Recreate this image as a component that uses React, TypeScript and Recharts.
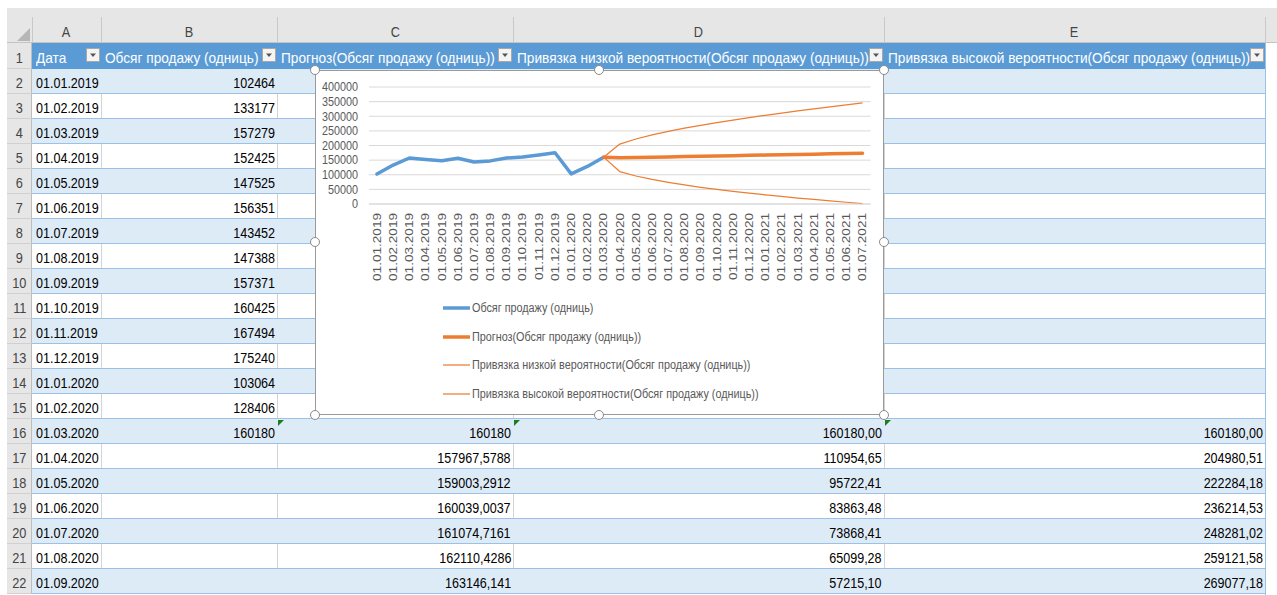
import React from 'react';
import { LineChart, Line, XAxis, YAxis, CartesianGrid, Legend } from 'recharts';

// ---------- DATA ----------
const dates = [
  '01.01.2019', '01.02.2019', '01.03.2019', '01.04.2019', '01.05.2019', '01.06.2019',
  '01.07.2019', '01.08.2019', '01.09.2019', '01.10.2019', '01.11.2019', '01.12.2019',
  '01.01.2020', '01.02.2020', '01.03.2020', '01.04.2020', '01.05.2020', '01.06.2020',
  '01.07.2020', '01.08.2020', '01.09.2020', '01.10.2020', '01.11.2020', '01.12.2020',
  '01.01.2021', '01.02.2021', '01.03.2021', '01.04.2021', '01.05.2021', '01.06.2021',
  '01.07.2021',
];

const salesValues = [
  102464, 133177, 157279, 152425, 147525, 156351, 143452, 147388, 157371, 160425,
  167494, 175240, 103064, 128406, 160180,
];

// from 01.03.2020 on
const FORECAST_START = 14;
const forecastValues = [
  160180, 157967.58, 159003.29, 160039.0, 161074.72, 162110.43, 163146.14, 164181.85,
  165217.57, 166253.28, 167289.0, 168324.72, 169360.43, 170396.15, 171431.87, 172467.58,
  173503.3,
];
const lowerValues = [
  160180, 110954.65, 95722.41, 83863.48, 73868.41, 65099.28, 57215.1, 50001,
  43337, 37122, 31258, 25694, 20429, 15415, 10601, 5987, 1572,
];
const upperValues = [
  160180, 204980.51, 222284.18, 236214.53, 248281.02, 259121.58, 269077.18, 278363,
  287099, 295384, 303320, 310956, 318291, 325377, 332263, 338949, 345434,
];

const yTicks = [0, 50000, 100000, 150000, 200000, 250000, 300000, 350000, 400000];

const columnLetters = ['A', 'B', 'C', 'D', 'E'];
const headerLabels = [
  'Дата',
  'Обсяг продажу (одниць)',
  'Прогноз(Обсяг продажу (одниць))',
  'Привязка низкой вероятности(Обсяг продажу (одниць))',
  'Привязка высокой вероятности(Обсяг продажу (одниць))',
];
const seriesKeys = ['sales', 'forecast', 'lower', 'upper'];

// table cells visible for rows 16..22 (C, D, E)
const forecastCells = ['160180', '157967,5788', '159003,2912', '160039,0037', '161074,7161', '162110,4286', '163146,141'];
const lowerCells = ['160180,00', '110954,65', '95722,41', '83863,48', '73868,41', '65099,28', '57215,10'];
const upperCells = ['160180,00', '204980,51', '222284,18', '236214,53', '248281,02', '259121,58', '269077,18'];
const VISIBLE_ROWS = 21; // rows 2..22

// ---------- STYLE ----------
const FONT = "'Liberation Sans', Arial, sans-serif";
const BLUE = '#5B9BD5';
const ORANGE = '#ED7D31';
const BAND = '#DDEBF7';
const BAND_LINE = '#9BC2E6';
const HEADER_GRAY = '#E6E6E6';
const COLS = [32, 101, 277, 513, 884, 1265];
const rowTop = (r: number) => (r === 1 ? 43 : 69 + (r - 2) * 25);
const rowH = (r: number) => (r === 1 ? 26 : 25);

const chartData = dates.map((d, i) => ({
  date: d,
  sales: i < salesValues.length ? salesValues[i] : null,
  forecast: i >= FORECAST_START ? forecastValues[i - FORECAST_START] : null,
  lower: i >= FORECAST_START ? lowerValues[i - FORECAST_START] : null,
  upper: i >= FORECAST_START ? upperValues[i - FORECAST_START] : null,
}));

const XTick = (props: any) => {
  const { x, y, payload } = props;
  return (
    <text
      transform={`translate(${x},${y}) scale(0.8,1) rotate(-90)`}
      textAnchor="end"
      dy="0.35em"
      fontSize={13.6}
      fill="#595959"
      fontFamily={FONT}
    >
      {payload.value}
    </text>
  );
};

const YTick = (props: any) => {
  const { x, y, payload } = props;
  return (
    <text
      transform={`translate(${x},${y}) scale(0.9,1)`}
      textAnchor="end"
      dy="0.355em"
      fontSize={12}
      fill="#595959"
      fontFamily={FONT}
    >
      {payload.value}
    </text>
  );
};

const LegendContent = (props: any) => {
  const payload = [...(props.payload || [])].sort(
    (a: any, b: any) => seriesKeys.indexOf(a.dataKey) - seriesKeys.indexOf(b.dataKey)
  );
  return (
    <div style={{ fontFamily: FONT, fontSize: 12, color: '#595959' }}>
      {payload.map((entry: any, idx: number) => {
        const sw = entry?.payload?.strokeWidth ?? 2;
        return (
          <div key={idx} style={{ height: 28.5, display: 'flex', alignItems: 'center' }}>
            <svg width={28} height={10} style={{ display: 'block', flexShrink: 0 }}>
              <line x1={0} y1={5} x2={27} y2={5} stroke={entry.color} strokeWidth={sw} />
            </svg>
            <span
              style={{
                marginLeft: 1,
                whiteSpace: 'nowrap',
                display: 'inline-block',
                transform: 'scaleX(0.9)',
                transformOrigin: 'left center',
              }}
            >
              {entry.value}
            </span>
          </div>
        );
      })}
    </div>
  );
};

const abs = (s: React.CSSProperties): React.CSSProperties => ({ position: 'absolute', ...s });

function CellText({ left, right, top, h, align, color, sx = 0.836, children }: any) {
  return (
    <div
      style={abs({
        left,
        top,
        width: right - left,
        height: h,
        display: 'flex',
        alignItems: 'center',
        justifyContent: align === 'right' ? 'flex-end' : align === 'center' ? 'center' : 'flex-start',
        paddingLeft: align === 'left' ? 4 : 0,
        paddingRight: align === 'right' ? 2 : 0,
        boxSizing: 'border-box',
        color,
        fontSize: 15,
        whiteSpace: 'nowrap',
        lineHeight: 1,
        paddingTop: 2,
      })}
    >
      <span
        style={{
          display: 'inline-block',
          flexShrink: 0,
          transform: `scaleX(${sx})`,
          transformOrigin: align === 'right' ? 'right center' : align === 'center' ? 'center center' : 'left center',
        }}
      >
        {children}
      </span>
    </div>
  );
}

function Dropdown({ right }: { right: number }) {
  return (
    <div
      style={abs({
        left: right - 15,
        top: 48,
        width: 14,
        height: 14,
        background: '#F4F4F4',
        border: '1px solid #A8A8A8',
        boxSizing: 'border-box',
      })}
    >
      <svg width={12} height={12} style={{ display: 'block' }}>
        <polygon points="3,4.5 9,4.5 6,8" fill="#555" />
      </svg>
    </div>
  );
}

function Handle({ x, y }: { x: number; y: number }) {
  return (
    <div
      style={abs({
        left: x - 5,
        top: y - 5,
        width: 10,
        height: 10,
        borderRadius: '50%',
        background: '#fff',
        border: '1.5px solid #8A8A8A',
        boxSizing: 'border-box',
      })}
    />
  );
}

function GreenTri({ x, y }: { x: number; y: number }) {
  return (
    <svg width={7} height={7} style={abs({ left: x, top: y })}>
      <polygon points="0,0 6,0 0,6" fill="#1E7B1E" />
    </svg>
  );
}

export default function App() {
  const rows: React.ReactNode[] = [];
  for (let i = 0; i < VISIBLE_ROWS; i++) {
    const r = i + 2;
    const top = rowTop(r);
    const h = rowH(r);
    const banded = r % 2 === 0;
    rows.push(
      <div key={'bg' + r} style={abs({ left: COLS[0], top, width: COLS[5] - COLS[0], height: h, background: banded ? BAND : '#fff', borderBottom: `1px solid ${BAND_LINE}`, boxSizing: 'border-box' })} />
    );
    if (!banded) {
      for (let c = 1; c < 5; c++) {
        rows.push(<div key={'vl' + r + c} style={abs({ left: COLS[c], top, width: 1, height: h - 1, background: '#D4D4D4' })} />);
      }
    }
    rows.push(
      <div key={'rn' + r} style={abs({ left: 7, top, width: 25, height: h, background: HEADER_GRAY, borderBottom: '1px solid #D0D0D0', borderRight: '1px solid #BDBDBD', boxSizing: 'border-box' })} />
    );
    rows.push(
      <CellText key={'rnt' + r} left={7} right={32} top={top} h={h} align="center" color="#444" sx={0.85}>{r}</CellText>
    );
    rows.push(
      <CellText key={'a' + r} left={COLS[0]} right={COLS[1]} top={top} h={h} align="left" color="#000">{dates[i]}</CellText>
    );
    if (i < salesValues.length) {
      rows.push(
        <CellText key={'b' + r} left={COLS[1]} right={COLS[2]} top={top} h={h} align="right" color="#000">{String(salesValues[i])}</CellText>
      );
    }
    if (i >= FORECAST_START) {
      const k = i - FORECAST_START;
      rows.push(<CellText key={'c' + r} left={COLS[2]} right={COLS[3]} top={top} h={h} align="right" color="#000">{forecastCells[k]}</CellText>);
      rows.push(<CellText key={'d' + r} left={COLS[3]} right={COLS[4]} top={top} h={h} align="right" color="#000">{lowerCells[k]}</CellText>);
      rows.push(<CellText key={'e' + r} left={COLS[4]} right={COLS[5]} top={top} h={h} align="right" color="#000">{upperCells[k]}</CellText>);
    }
  }

  return (
    <div style={abs({ left: 0, top: 0, width: 1277, height: 595, background: '#fff', overflow: 'hidden', fontFamily: FONT })}>
      {/* column header strip */}
      <div style={abs({ left: 7, top: 8, width: 1270, height: 35, background: HEADER_GRAY, borderBottom: '1px solid #C4C4C4', boxSizing: 'border-box' })} />
      <svg width={14} height={14} style={abs({ left: 17, top: 28 })}>
        <polygon points="13,0 13,13 0,13" fill="#B6B6B6" />
      </svg>
      {COLS.map((x, i) => (
        <div key={'ch' + i} style={abs({ left: x, top: 17, width: 1, height: 26, background: '#C8C8C8' })} />
      ))}
      {columnLetters.map((l, i) => (
        <CellText key={'cl' + i} left={COLS[i]} right={COLS[i + 1]} top={17} h={26} align="center" color="#444" sx={0.85}>{l}</CellText>
      ))}

      {/* row 1 header */}
      <div style={abs({ left: 7, top: 43, width: 25, height: 26, background: HEADER_GRAY, borderRight: '1px solid #BDBDBD', borderBottom: '1px solid #D0D0D0', boxSizing: 'border-box' })} />
      <CellText left={7} right={32} top={43} h={26} align="center" color="#444" sx={0.85}>1</CellText>
      <div style={abs({ left: COLS[0], top: 43, width: COLS[5] - COLS[0], height: 26, background: BLUE })} />
      {headerLabels.map((t, i) => (
        <CellText key={'h' + i} left={COLS[i]} right={COLS[i + 1] - 16} top={43} h={26} align="left" color="#fff" sx={0.91}>{t}</CellText>
      ))}
      {COLS.slice(1).map((x, i) => (
        <Dropdown key={'dd' + i} right={x} />
      ))}

      {rows}
      <div style={abs({ left: COLS[5], top: 43, width: 1, height: 552, background: BAND_LINE })} />

      <GreenTri x={COLS[2] + 1} y={rowTop(16) + 1} />
      <GreenTri x={COLS[3] + 1} y={rowTop(16) + 1} />
      <GreenTri x={COLS[4] + 1} y={rowTop(16) + 1} />

      {/* chart object */}
      <div style={abs({ left: 315, top: 70, width: 569, height: 345, background: '#fff' })}>
        <LineChart width={569} height={345} data={chartData} margin={{ top: 17, right: 13.5, bottom: 0, left: 0 }}>
          <CartesianGrid horizontal vertical={false} stroke="#D9D9D9" />
          <XAxis
            dataKey="date"
            interval={0}
            height={211}
            padding={{ left: 8, right: 8 }}
            tick={<XTick />}
            tickLine={false}
            tickSize={0}
            tickMargin={9}
            axisLine={{ stroke: '#D9D9D9' }}
          />
          <YAxis
            domain={[0, 400000]}
            ticks={yTicks}
            interval={0}
            width={54}
            axisLine={false}
            tickLine={false}
            tickSize={0}
            tickMargin={11}
            tick={<YTick />}
          />
          <Legend
            layout="vertical"
            align="center"
            verticalAlign="middle"
            content={<LegendContent />}
            wrapperStyle={{ left: 128, top: 224, width: 'auto', height: 'auto' }}
          />
          <Line name={headerLabels[1]} dataKey="sales" stroke={BLUE} strokeWidth={3.5} dot={false} activeDot={false} isAnimationActive={false} strokeLinejoin="round" strokeLinecap="round" />
          <Line name={headerLabels[2]} dataKey="forecast" stroke={ORANGE} strokeWidth={3.5} dot={false} activeDot={false} isAnimationActive={false} strokeLinejoin="round" strokeLinecap="round" />
          <Line name={headerLabels[3]} dataKey="lower" stroke={ORANGE} strokeWidth={1.25} dot={false} activeDot={false} isAnimationActive={false} strokeLinejoin="round" />
          <Line name={headerLabels[4]} dataKey="upper" stroke={ORANGE} strokeWidth={1.25} dot={false} activeDot={false} isAnimationActive={false} strokeLinejoin="round" />
        </LineChart>
        <div style={abs({ left: 0, top: 0, width: 569, height: 345, border: '1px solid #9A9A9A', boxSizing: 'border-box', pointerEvents: 'none' })} />
      </div>
      <Handle x={315} y={70} />
      <Handle x={599} y={70} />
      <Handle x={884} y={70} />
      <Handle x={315} y={242} />
      <Handle x={884} y={242} />
      <Handle x={315} y={415} />
      <Handle x={599} y={415} />
      <Handle x={884} y={415} />
    </div>
  );
}
